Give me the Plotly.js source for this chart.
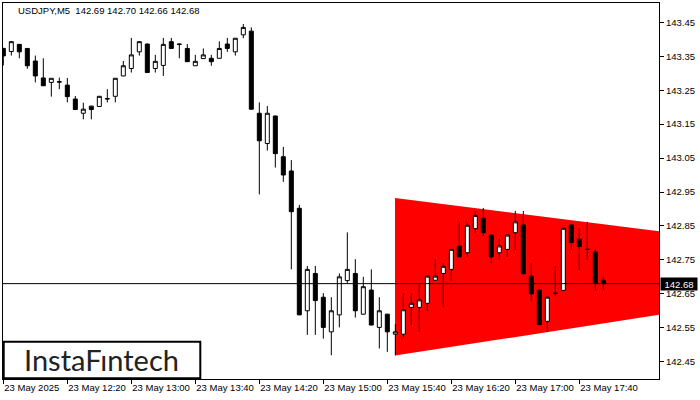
<!DOCTYPE html>
<html>
<head>
<meta charset="utf-8">
<script src="https://cdn.plot.ly/plotly-3.0.1.min.js"></script>
<style>html,body{margin:0;padding:0;background:#fff;}#chart{width:700px;height:400px;}</style>
</head>
<body>
<div id="chart"></div>
<script>
// USDJPY M5, 23 May 2025, bars from 11:40 to 17:55
var openP = [143.373,143.364,143.385,143.373,143.336,143.286,143.273,143.275,143.265,143.224,
143.182,143.203,143.202,143.224,143.232,143.292,143.314,143.363,143.386,143.314,
143.323,143.393,143.386,143.373,143.322,143.343,143.344,143.344,143.386,143.363,
143.413,143.424,143.182,143.093,143.174,143.054,143.012,142.902,142.600,142.710,
142.640,142.538,142.588,142.689,142.710,142.590,142.661,142.551,142.590,142.531,
142.531,142.610,142.610,142.622,142.690,142.710,142.722,142.791,142.771,142.842,
142.873,142.823,142.771,142.781,142.830,142.853,142.702,142.661,142.569,142.652,
142.660,142.853,142.811,142.781,142.773,142.690];
var highP = [143.375,143.395,143.386,143.374,143.352,143.344,143.285,143.287,143.286,143.233,
143.213,143.204,143.233,143.253,143.286,143.336,143.404,143.394,143.387,143.354,
143.404,143.404,143.387,143.386,143.354,143.373,143.354,143.394,143.404,143.404,
143.445,143.435,143.214,143.203,143.175,143.083,143.044,142.912,142.732,142.732,
142.652,142.640,142.710,142.831,142.752,142.700,142.722,142.640,142.591,142.561,
142.652,142.652,142.681,142.703,142.752,142.740,142.782,142.862,142.862,142.894,
142.903,142.824,142.812,142.824,142.894,142.894,142.740,142.662,142.641,142.732,
142.843,142.854,142.843,142.862,142.781,142.700];
var lowP = [143.323,143.352,143.344,143.313,143.273,143.263,143.231,143.253,143.214,143.192,
143.164,143.164,143.201,143.214,143.214,143.291,143.302,143.352,143.301,143.302,
143.292,143.372,143.344,143.333,143.321,143.342,143.322,143.343,143.363,143.352,
143.403,143.193,142.943,143.072,143.022,142.980,142.722,142.587,142.529,142.529,
142.518,142.469,142.551,142.681,142.580,142.589,142.557,142.489,142.479,142.469,
142.519,142.558,142.538,142.600,142.689,142.610,142.689,142.758,142.759,142.830,
142.820,142.740,142.750,142.759,142.779,142.708,142.630,142.558,142.538,142.644,
142.659,142.779,142.720,142.750,142.659,142.660];
var closeP = [143.351,143.393,143.363,143.322,143.292,143.263,143.285,143.274,143.231,143.193,
143.194,143.193,143.232,143.225,143.285,143.322,143.354,143.393,143.302,143.335,
143.385,143.373,143.385,143.334,143.335,143.354,143.334,143.373,143.373,143.403,
143.435,143.194,143.101,143.182,143.063,143.000,142.892,142.588,142.722,142.630,
142.551,142.600,142.700,142.722,142.600,142.671,142.558,142.600,142.538,142.538,
142.603,142.622,142.632,142.702,142.702,142.731,142.781,142.759,142.852,142.881,
142.830,142.759,142.791,142.823,142.862,142.709,142.650,142.559,142.640,142.651,
142.843,142.801,142.789,142.781,142.681,142.680];

var barIndex = openP.map(function(_, i){ return i; });
var tickBars = [0, 8, 16, 24, 32, 40, 48, 56, 64, 72];
var tickTexts = ["23 May 2025","23 May 12:20","23 May 13:00","23 May 13:40","23 May 14:20",
                 "23 May 15:00","23 May 15:40","23 May 16:20","23 May 17:00","23 May 17:40"];
var priceTicks = [142.45,142.55,142.65,142.75,142.85,142.95,143.05,143.15,143.25,143.35,143.45];
var lastPrice = 142.68;
var headerText = "USDJPY,M5  142.69 142.70 142.66 142.68";
// symmetric triangle pattern (bar index, price)
var patternX = [48.96, 81.96, 81.96, 48.96];
var patternY = [142.932, 142.834, 142.588, 142.468];

var font = "Liberation Sans, Arial, sans-serif";

var trace = {
  type: 'candlestick',
  x: barIndex, open: openP, high: highP, low: lowP, close: closeP,
  increasing: {line: {color: '#000', width: 1}, fillcolor: '#fff'},
  decreasing: {line: {color: '#000', width: 1}, fillcolor: '#000'},
  whiskerwidth: 0,
  hoverinfo: 'skip'
};

var path = 'M ' + patternX[0] + ',' + patternY[0];
for (var i = 1; i < patternX.length; i++) path += ' L ' + patternX[i] + ',' + patternY[i];
path += ' Z';

var layout = {
  width: 700, height: 400,
  margin: {l: 3, r: 41, t: 3, b: 21, pad: 0},
  paper_bgcolor: '#fff', plot_bgcolor: '#fff',
  showlegend: false,
  boxgap: 0.5, boxgroupgap: 0,
  title: {text: headerText, x: 18/700, xref: 'container', xanchor: 'left',
          y: 1 - 11/400, yref: 'container', yanchor: 'middle',
          font: {family: font, size: 9.5, color: '#000'}},
  xaxis: {
    range: [-0.04, 81.96], showgrid: false, zeroline: false,
    showline: true, linecolor: '#000', linewidth: 1, mirror: true,
    rangeslider: {visible: false},
    tickmode: 'array', tickvals: tickBars, ticktext: tickTexts,
    ticks: 'outside', ticklen: 4, tickcolor: '#000', tickwidth: 1,
    tickangle: 0, automargin: false,
    ticklabelposition: 'outside right',
    tickfont: {family: font, size: 9.5, color: '#000'}
  },
  yaxis: {
    side: 'right', range: [142.399, 143.5069], showgrid: false, zeroline: false,
    showline: true, linecolor: '#000', linewidth: 1, mirror: true,
    tickmode: 'array', tickvals: priceTicks,
    ticktext: priceTicks.map(function(v){ return v.toFixed(2); }),
    ticks: 'outside', ticklen: 4, tickcolor: '#000', tickwidth: 1,
    automargin: false,
    tickfont: {family: font, size: 9.5, color: '#000'}
  },
  shapes: [
    {type: 'path', xref: 'x', yref: 'y', path: path, fillcolor: '#ff0000',
     line: {width: 0}, layer: 'below'},
    {type: 'line', xref: 'paper', yref: 'y', x0: 0, x1: 1, y0: lastPrice, y1: lastPrice,
     line: {color: '#000', width: 1}, layer: 'above'},
    {type: 'rect', xref: 'paper', yref: 'paper',
     x0: (3.7-3)/656, x1: (200.3-3)/656, y0: (379-378.3)/376, y1: (379-341.7)/376,
     fillcolor: '#fff', line: {color: '#000', width: 2}, layer: 'above'}
  ],
  annotations: [
    {xref: 'paper', yref: 'y', x: 1, y: lastPrice, xanchor: 'left', yanchor: 'middle',
     xshift: 1, text: lastPrice.toFixed(2), showarrow: false, bgcolor: '#000',
     font: {family: font, size: 9.5, color: '#fff'}, width: 34, height: 10, borderpad: 1, align: 'center'},
    {xref: 'paper', yref: 'paper', x: (101.7-3)/656, y: (379-359.3)/376,
     xanchor: 'center', yanchor: 'middle', text: 'InstaFıntech', showarrow: false,
     font: {family: 'Lato, sans-serif', size: 29, color: '#222'}}
  ]
};

Plotly.newPlot('chart', [trace], layout, {staticPlot: true, displayModeBar: false});
</script>
</body>
</html>
